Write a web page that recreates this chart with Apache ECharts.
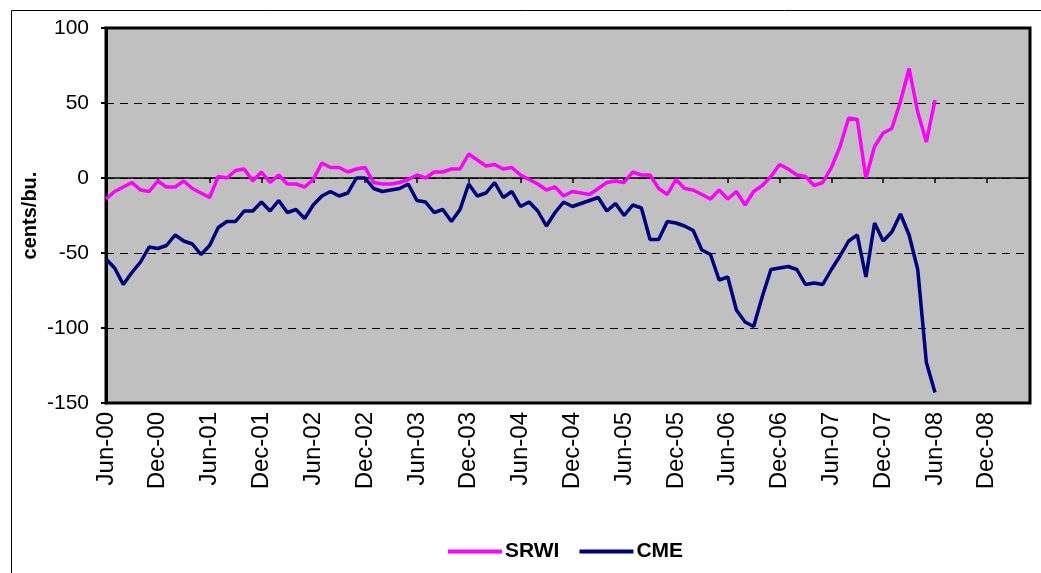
<!DOCTYPE html>
<html>
<head>
<meta charset="utf-8">
<title>SRWI vs CME</title>
<script src="https://cdn.jsdelivr.net/npm/echarts@6/dist/echarts.min.js"></script>
<style>
  html, body { margin: 0; padding: 0; background: #fff; }
  #chart { width: 1041px; height: 573px; }
</style>
</head>
<body>
<div id="chart"></div>
<script>
// month labels, Jun-00 .. May-09 (axis runs a bit past the last tick)
const monthNames = ['Jan', 'Feb', 'Mar', 'Apr', 'May', 'Jun', 'Jul', 'Aug', 'Sep', 'Oct', 'Nov', 'Dec'];
const categories = [];
for (let k = 0; k < 108; k++) {
    const m = (5 + k) % 12;
    const y = Math.floor((5 + k) / 12);
    categories.push(monthNames[m] + '-' + String(y).padStart(2, '0'));
}

// cents/bu., monthly Jun-00 .. Jun-08
const srwi = [
    -14, -9, -6, -3, -8, -9, -2, -6, -6, -2, -7, -10, -13, 1, 0, 5,
    6, -2, 4, -3, 2, -4, -4, -6, -1, 10, 7, 7, 4, 6, 7, -3,
    -4, -4, -3, -1, 2, 0, 4, 4, 6, 6, 16, 12, 8, 9, 6, 7,
    2, -1, -4, -8, -6, -12, -9, -10, -11, -7, -3, -2, -3, 4, 2, 2,
    -7, -11, -1, -7, -8, -11, -14, -8, -14, -9, -18, -9, -5, 1, 9, 6,
    2, 1, -5, -3, 7, 21, 40, 39, 0, 21, 30, 33, 51, 73, 44, 24,
    52
];
const cme = [
    -54, -60, -71, -63, -56, -46, -47, -45, -38, -42, -44, -51, -45, -33, -29, -29,
    -22, -22, -16, -22, -15, -23, -21, -27, -18, -12, -9, -12, -10, 0, 0, -7,
    -9, -8, -7, -4, -15, -16, -23, -21, -29, -21, -4, -12, -10, -3, -13, -9,
    -19, -16, -22, -32, -23, -16, -19, -17, -15, -13, -22, -17, -25, -18, -20, -41,
    -41, -29, -30, -32, -35, -48, -51, -68, -66, -88, -96, -99, -79, -61, -60, -59,
    -61, -71, -70, -71, -61, -52, -42, -38, -66, -30, -42, -36, -24, -38, -61, -123,
    -143
];

const FONT = "'Liberation Sans', Arial, sans-serif";

const chart = echarts.init(document.getElementById('chart'));

chart.setOption({
    animation: false,
    backgroundColor: '#fff',
    textStyle: { fontFamily: FONT, color: '#000' },
    graphic: [{
        type: 'rect',
        left: 9, top: 8,
        shape: { width: 1031, height: 600 },
        style: { fill: 'none', stroke: '#000', lineWidth: 1 },
        silent: true
    }],
    grid: {
        left: 106, right: 11, top: 28, bottom: 170,
        show: true,
        backgroundColor: '#C0C0C0',
        borderColor: '#000',
        borderWidth: 3
    },
    legend: {
        left: 443, bottom: 6,
        itemWidth: 54, itemHeight: 4,
        itemGap: 20,
        icon: 'rect',
        textStyle: { fontFamily: FONT, fontSize: 21, fontWeight: 'bold', color: '#000', padding: [0, 0, 0, -2] },
        data: ['SRWI', 'CME']
    },
    xAxis: [{
        // labels along the bottom
        type: 'category',
        data: categories,
        boundaryGap: false,
        position: 'bottom',
        axisLine: { show: false, onZero: false },
        axisTick: { show: false },
        splitLine: { show: false },
        axisLabel: {
            interval: 5, rotate: 90, margin: 9,
            fontFamily: FONT, fontSize: 24, color: '#000'
        }
    }, {
        // line and ticks sitting on zero
        type: 'category',
        data: categories,
        boundaryGap: false,
        position: 'bottom',
        axisLine: { show: true, onZero: true, lineStyle: { color: '#000', width: 1.5 } },
        axisTick: { show: true, interval: 5, length: 5, lineStyle: { color: '#000', width: 1.5 } },
        axisLabel: { show: false },
        splitLine: { show: false }
    }],
    yAxis: {
        type: 'value',
        min: -150, max: 100, interval: 50,
        name: 'cents/bu.',
        nameLocation: 'middle',
        nameRotate: 90,
        nameGap: 66,
        nameMoveOverlap: false,
        nameTextStyle: { fontFamily: FONT, fontSize: 20, fontWeight: 'bold', color: '#000' },
        axisLine: { show: true, lineStyle: { color: '#000', width: 3 } },
        axisTick: { show: true, length: 5, lineStyle: { color: '#000', width: 2 } },
        axisLabel: { fontFamily: FONT, fontSize: 21, color: '#000', margin: 17 },
        splitLine: { show: true, lineStyle: { color: '#000', width: 1, type: [8, 6] } }
    },
    series: [{
        name: 'SRWI',
        type: 'line',
        data: srwi,
        symbol: 'none',
        lineStyle: { color: '#FF00FF', width: 3.5 },
        itemStyle: { color: '#FF00FF' }
    }, {
        name: 'CME',
        type: 'line',
        data: cme,
        symbol: 'none',
        lineStyle: { color: '#000080', width: 3.5 },
        itemStyle: { color: '#000080' }
    }]
});
</script>
</body>
</html>
